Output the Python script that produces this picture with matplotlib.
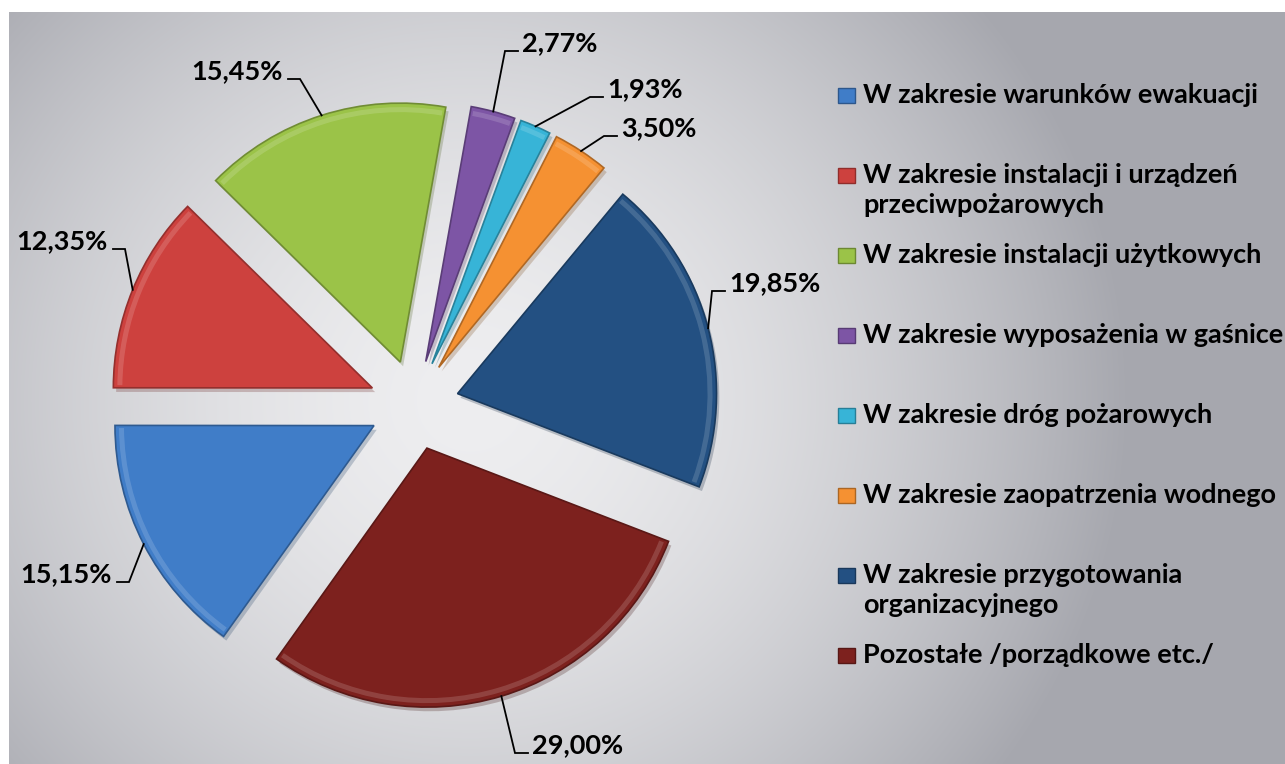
import numpy as np
import matplotlib.pyplot as plt
from matplotlib.patches import Rectangle, Wedge
from matplotlib.colors import to_rgb
import matplotlib.patheffects as pe

# canvas in pixels
W, H = 1285, 764

# data
categories = [
    "W zakresie warunków ewakuacji",
    "W zakresie instalacji i urządzeń\nprzeciwpożarowych",
    "W zakresie instalacji użytkowych",
    "W zakresie wyposażenia w gaśnice",
    "W zakresie dróg pożarowych",
    "W zakresie zaopatrzenia wodnego",
    "W zakresie przygotowania\norganizacyjnego",
    "Pozostałe /porządkowe etc./",
]
values = [15.15, 12.35, 15.45, 2.77, 1.93, 3.50, 19.85, 29.00]
value_labels = ["15,15%", "12,35%", "15,45%", "2,77%", "1,93%", "3,50%", "19,85%", "29,00%"]
colors = ["#407DC8", "#CD413E", "#9BC348", "#7D55A5", "#37B4D7", "#F59132", "#235082", "#7D211E"]

# layout (screen px, y down)
cx, cy = 414, 405
radius = 259
explode_px = 45
start = 234.5
# leader elbow points and which side the label sits
elbows = [(129, 582), (125, 249), (300, 79), (505, 51), (590, 97), (604, 136), (712, 291), (515, 753)]
sides = ["left", "left", "left", "right", "right", "right", "right", "right"]

plt.rcParams['font.family'] = ["Lato", "DejaVu Sans"]


def sy(y):
    return H - y


def shade(col, k):
    return tuple(c * k for c in to_rgb(col))


def tint(col, k):
    return tuple(c + (1 - c) * k for c in to_rgb(col))


fig = plt.figure(figsize=(W / 100, H / 100), dpi=100, facecolor="white")
ax = fig.add_axes([0, 0, 1, 1])

# radial gradient background panel
yy, xx = np.mgrid[12:H, 9:W]
d = np.sqrt((xx - 470.0) ** 2 + ((yy - 400.0) * 1.05) ** 2) / 660.0
t = np.clip(d, 0, 1) ** 1.7
light = np.array([238, 238, 240]) / 255
dark = np.array([166, 167, 174]) / 255
bg = light[None, None, :] * (1 - t[..., None]) + dark[None, None, :] * t[..., None]
ax.imshow(bg, extent=(9, W, 0, H - 12), origin="upper", zorder=0, interpolation="bilinear")

# pie (explode is in data units here, i.e. pixels)
wedges, _ = ax.pie(values, colors=colors, startangle=start, counterclock=False,
                   radius=radius, center=(cx, sy(cy)),
                   explode=[explode_px] * len(values),
                   wedgeprops=dict(linewidth=1.2))
for w, col in zip(wedges, colors):
    w.set_edgecolor(shade(col, 0.72))
    w.set_zorder(2)
    w.set_path_effects([pe.SimplePatchShadow(offset=(2, -3), alpha=0.25, rho=0.5), pe.Normal()])
    # soft bevel highlight along the outer rim
    ax.add_patch(Wedge(w.center, w.r - 4, w.theta1 + 0.6, w.theta2 - 0.6, width=5,
                       facecolor=tint(col, 0.25), edgecolor="none", alpha=0.6, zorder=2.5))

# percentage labels with leader lines
fracs = np.array(values) / sum(values)
ends = start - 360 * np.cumsum(fracs)
mids = ends + 180 * fracs
for i, m in enumerate(mids):
    a = np.deg2rad(m)
    ax_ = cx + (explode_px + radius) * np.cos(a)
    ay_ = cy - (explode_px + radius) * np.sin(a)
    ex, ey = elbows[i]
    if sides[i] == "left":
        hx = ex - 12
        tx, ha = hx - 5, "right"
    else:
        hx = ex + 13
        tx, ha = hx + 4, "left"
    ax.plot([ax_, ex, hx], [sy(ay_), sy(ey), sy(ey)], color="black", lw=1.3, zorder=3,
            solid_joinstyle="miter")
    ax.text(tx, sy(ey - 8), value_labels[i], ha=ha, va="center", fontsize=19.5,
            fontweight="bold", color="black", zorder=4)

# legend
for i, (lab, col) in enumerate(zip(categories, colors)):
    y = 95 + 80 * i
    ax.add_patch(Rectangle((838, sy(y + 8)), 17, 15, facecolor=col,
                           edgecolor=shade(col, 0.7), lw=1, zorder=3))
    ax.text(863, sy(y - 12), lab, ha="left", va="top", fontsize=19.5, fontweight="bold",
            color="black", linespacing=1.3, zorder=4)

ax.set_xlim(0, W)
ax.set_ylim(0, H)
ax.set_aspect("equal")
ax.axis("off")

fig.savefig("out.png", dpi=100, facecolor="white")
print("finished")
